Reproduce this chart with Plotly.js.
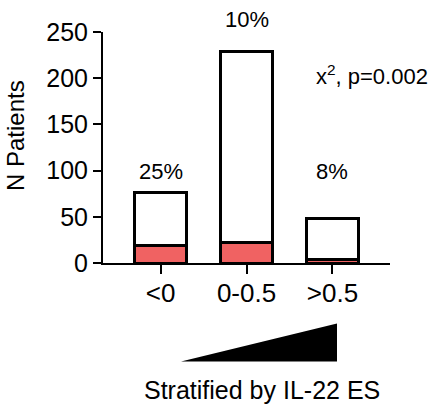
<!DOCTYPE html>
<html>
<head>
<meta charset="utf-8">
<script src="https://cdn.plot.ly/plotly-3.0.1.min.js"></script>
<style>html,body{margin:0;padding:0;background:#fff;}#chart{width:432px;height:407px;}</style>
</head>
<body>
<div id="chart"></div>
<script>
var categories = ["<0", "0-0.5", ">0.5"];
var totalPatients = [76, 229, 48];
var eventPatients = [19, 22, 4];
var percentLabels = ["25%", "10%", "8%"];
var yTickVals = [0, 50, 100, 150, 200, 250];
var xTitle = "Stratified by IL-22 ES";
var yTitle = "N Patients";
var statText = "x<sup>2</sup>, p=0.002";

var restPatients = totalPatients.map(function (t, i) { return t - eventPatients[i]; });
var fontFam = "Liberation Sans, Arial, Helvetica, sans-serif";

var traces = [
  {
    type: "bar", x: categories, y: eventPatients, width: 0.6,
    marker: { color: "#F06262", line: { color: "#000", width: 3 } },
    hoverinfo: "none"
  },
  {
    type: "bar", x: categories, y: restPatients, width: 0.6,
    marker: { color: "#FFFFFF", line: { color: "#000", width: 3 } },
    hoverinfo: "none"
  }
];

var labelPaperY = [0.394, 1.052, 0.394];
var annotations = categories.map(function (c, i) {
  return {
    x: c, y: labelPaperY[i], xref: "x", yref: "paper",
    text: percentLabels[i], showarrow: false, yanchor: "middle",
    font: { family: fontFam, size: 22, color: "#000" }
  };
});
annotations.push({
  x: 0.735, y: 0.815, xref: "paper", yref: "paper", xanchor: "left", yanchor: "middle",
  text: statText, showarrow: false,
  font: { family: fontFam, size: 22, color: "#000" }
});
annotations.push({
  x: 0.554, y: -0.55, xref: "paper", yref: "paper", xanchor: "center", yanchor: "middle",
  text: xTitle, showarrow: false,
  font: { family: fontFam, size: 25, color: "#000" }
});
annotations.push({
  x: -0.303, y: 0.55, xref: "paper", yref: "paper", xanchor: "center", yanchor: "middle",
  text: yTitle, showarrow: false, textangle: -90,
  font: { family: fontFam, size: 24, color: "#000" }
});

var layout = {
  width: 432, height: 407,
  margin: { l: 103, r: 42, t: 32, b: 144 },
  paper_bgcolor: "#fff", plot_bgcolor: "#fff",
  barmode: "stack", showlegend: false,
  font: { family: fontFam, color: "#000" },
  xaxis: {
    type: "category", range: [-0.67, 2.67],
    showline: true, linecolor: "#000", linewidth: 2,
    ticks: "outside", ticklen: 9, tickwidth: 2, tickcolor: "#000",
    ticklabelstandoff: -3,
    tickfont: { family: fontFam, size: 26, color: "#000" },
    showgrid: false, zeroline: false, fixedrange: true
  },
  yaxis: {
    range: [0, 250], tickvals: yTickVals,
    showline: true, linecolor: "#000", linewidth: 2,
    ticks: "outside", ticklen: 8, tickwidth: 2, tickcolor: "#000",
    tickfont: { family: fontFam, size: 25, color: "#000" },
    showgrid: false, zeroline: false, fixedrange: true
  },
  shapes: [{
    type: "path", xref: "paper", yref: "paper",
    path: "M 0.2718 -0.4264 L 0.8153 -0.4264 L 0.8153 -0.2619 Z",
    fillcolor: "#000", line: { color: "#000", width: 0 }
  }],
  annotations: annotations
};

Plotly.newPlot("chart", traces, layout, { displayModeBar: false, staticPlot: true });
</script>
</body>
</html>
